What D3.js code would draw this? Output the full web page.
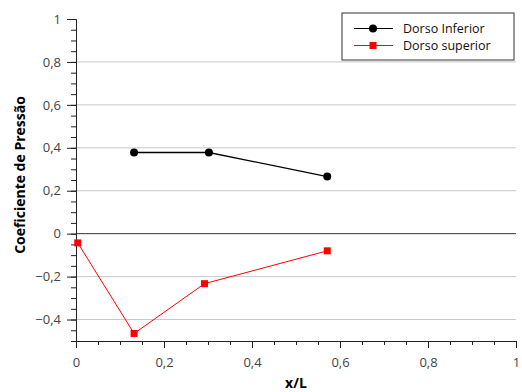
<!DOCTYPE html>
<html>
<head>
<meta charset="utf-8">
<script src="https://cdn.jsdelivr.net/npm/d3@7"></script>
<style>
  body { margin: 0; background: #fff; }
  text { font-family: "Open Sans", "Noto Sans", sans-serif; }
</style>
</head>
<body>
<svg width="522" height="392"></svg>
<script>
const svg = d3.select('svg');

// dados
const xInferior = [0.132, 0.302, 0.571];
const cpInferior = [0.378, 0.378, 0.266];
const xSuperior = [0.004, 0.132, 0.292, 0.571];
const cpSuperior = [-0.043, -0.465, -0.233, -0.08];
const xTicks = [0, 0.2, 0.4, 0.6, 0.8, 1];
const yTicks = [-0.4, -0.2, 0, 0.2, 0.4, 0.6, 0.8, 1];
const series = ['Dorso Inferior', 'Dorso superior'];

const marg = { cima: 19, direita: 6, baixo: 51, esquerda: 76 };
const largura = 522, altura = 392;
const innerA = altura - marg.cima - marg.baixo;

const x = d3.scaleLinear().domain([0, 1]).range([0, 440]);
const y = d3.scaleLinear().domain([-0.5, 1]).range([innerA, 0]);

const fmt = d => d === 0 ? '0' : d === 1 ? '1' : d3.format('.1f')(d).replace('.', ',').replace('-', '\u2212');

const g = svg.append('g').attr('transform', `translate(${marg.esquerda},${marg.cima})`);

// grade
g.selectAll('.grid').data(yTicks.filter(v => v !== 0 && v !== 1))
  .enter().append('line')
    .attr('x1', 0).attr('x2', x(1))
    .attr('y1', d => y(d)).attr('y2', d => y(d))
    .attr('stroke', '#c8c8c8').attr('stroke-width', 1);

g.append('line')
  .attr('x1', 0).attr('x2', x(1))
  .attr('y1', y(0)).attr('y2', y(0))
  .attr('stroke', '#333').attr('stroke-width', 1);

// eixos
const styleAxis = sel => {
  sel.select('.domain').attr('stroke', '#222');
  sel.selectAll('line').attr('stroke', '#222');
  sel.selectAll('text').attr('fill', '#444').style('font-size', '13px');
};

const yMinor = d3.range(-0.5, 1.001, 0.05);
g.append('g').call(d3.axisLeft(y).tickValues(yMinor).tickSize(5).tickFormat(''))
  .call(styleAxis);
g.append('g').call(d3.axisLeft(y).tickValues(yTicks).tickSize(9).tickSizeOuter(0).tickFormat(fmt).tickPadding(6))
  .call(styleAxis);

const xMinor = d3.range(0, 1.001, 0.05);
g.append('g').attr('transform', `translate(0,${innerA})`)
  .call(d3.axisBottom(x).tickValues(xMinor).tickSize(4).tickFormat(''))
  .call(styleAxis);
g.append('g').attr('transform', `translate(0,${innerA})`)
  .call(d3.axisBottom(x).tickValues(xTicks).tickSize(7).tickSizeOuter(0).tickFormat(fmt).tickPadding(10))
  .call(styleAxis);

// rótulos
svg.append('text')
  .attr('x', marg.esquerda + x(0.5)).attr('y', 388)
  .attr('text-anchor', 'middle')
  .style('font-size', '14px').style('font-weight', 'bold')
  .text('x/L');

svg.append('text')
  .attr('transform', 'translate(25,175) rotate(-90)')
  .attr('text-anchor', 'middle')
  .style('font-size', '14px').style('font-weight', 'bold')
  .text('Coeficiente de Pressão');

// linhas
const linha = d3.line().x(d => x(d[0])).y(d => y(d[1]));
const inf = xInferior.map((v, i) => [v, cpInferior[i]]);
const sup = xSuperior.map((v, i) => [v, cpSuperior[i]]);

g.append('path').datum(inf).attr('d', linha)
  .attr('fill', 'none').attr('stroke', '#000').attr('stroke-width', 1.3);
g.selectAll('.pi').data(inf).enter().append('circle')
  .attr('cx', d => x(d[0])).attr('cy', d => y(d[1])).attr('r', 4)
  .attr('fill', '#000');

g.append('path').datum(sup).attr('d', linha)
  .attr('fill', 'none').attr('stroke', '#ff0000').attr('stroke-width', 1);
g.selectAll('.ps').data(sup).enter().append('rect')
  .attr('x', d => x(d[0]) - 3.5).attr('y', d => y(d[1]) - 3.5)
  .attr('width', 7).attr('height', 7)
  .attr('fill', '#ff0000');

// legenda
const leg = svg.append('g').attr('transform', 'translate(342,13)');
leg.append('rect').attr('width', 172).attr('height', 47)
  .attr('fill', '#fff').attr('stroke', '#333').attr('stroke-width', 1);
const cores = ['#000', '#ff0000'];
series.forEach((s, i) => {
  const yy = 15.5 + i * 17;
  leg.append('line').attr('x1', 12).attr('x2', 51).attr('y1', yy).attr('y2', yy)
    .attr('stroke', cores[i]).attr('stroke-width', 1);
  if (i === 0) {
    leg.append('circle').attr('cx', 31).attr('cy', yy).attr('r', 4).attr('fill', cores[i]);
  } else {
    leg.append('rect').attr('x', 27.5).attr('y', yy - 3.5).attr('width', 7).attr('height', 7).attr('fill', cores[i]);
  }
  leg.append('text').attr('x', 61).attr('y', yy + 4.5)
    .style('font-size', '12.5px').attr('fill', '#111')
    .text(s);
});
</script>
</body>
</html>
